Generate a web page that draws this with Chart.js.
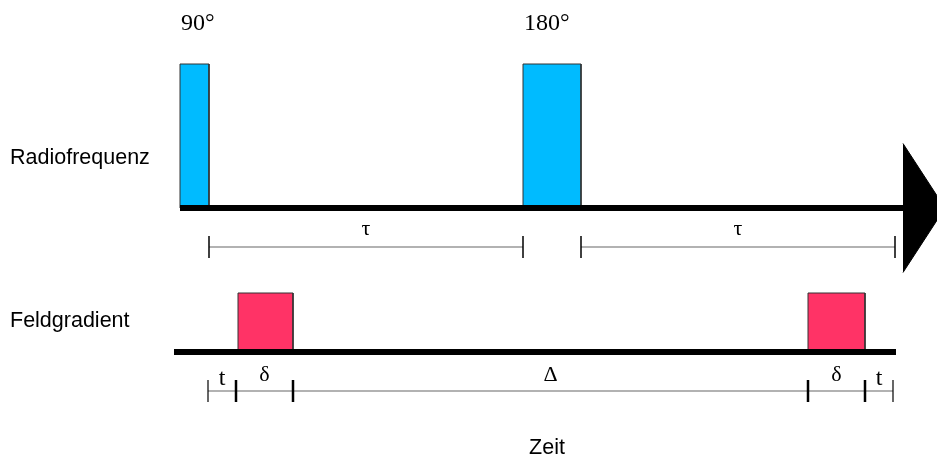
<!DOCTYPE html>
<html>
<head>
<meta charset="utf-8">
<script src="https://cdn.jsdelivr.net/npm/chart.js@4.4.1/dist/chart.umd.min.js"></script>
<style>
  html, body { margin: 0; padding: 0; background: #fff; }
  #wrap { width: 937px; height: 456px; }
</style>
</head>
<body>
<div id="wrap"><canvas id="seq" width="937" height="456"></canvas></div>
<script>
// time axis: 0 = start of the 90 degree pulse
const channels = ['Radiofrequenz', 'Feldgradient'];
const axisTitle = 'Zeit';

const rfLabels = ['90°', '180°'];
const rfStart = [0, 343];
const rfDur = [29, 58];
const rfAmp = [144, 144];

const gradStart = [58, 628];
const gradDur = [55, 57];
const gradAmp = [59, 59];

const rfAxis = [0, 723];      // time line of the rf channel, arrow head after it
const arrowEnd = 765;
const gradAxis = [-6, 716];

const tauLabels = ['τ', 'τ'];
const tauFrom = [29, 401];
const tauTo = [343, 715];

const markLabels = ['t', 'δ', 'Δ', 'δ', 't'];
const markTicks = [28, 56, 113, 628, 685, 713];

// row layout (y units, 0 = bottom of canvas)
const RF_BASE = 248;
const GRAD_BASE = 104;
const TAU_Y = 209;
const MARK_Y = 65;
const ARROW_HALF = 64.5;
const TICK = 11;

const SANS = '"Liberation Sans", Arial, sans-serif';
const SERIF = '"Liberation Serif", "Times New Roman", serif';

function pulse(start, dur, amp, base, color) {
  return {
    data: [
      {x: start, y: base}, {x: start, y: base + amp},
      {x: start + dur, y: base + amp}, {x: start + dur, y: base}
    ],
    fill: {value: base},
    backgroundColor: color,
    borderColor: '#333',
    borderWidth: 1,
    pointRadius: 0,
    order: 5
  };
}

function tick(x, yc, w) {
  return {
    data: [{x: x, y: yc - TICK}, {x: x, y: yc + TICK}],
    borderColor: '#000', borderWidth: w, borderCapStyle: 'butt', pointRadius: 0, order: 1
  };
}

function bracket(x0, x1, yc) {
  return {
    data: [{x: x0, y: yc}, {x: x1, y: yc}],
    borderColor: '#666', borderWidth: 1.2, pointRadius: 0, order: 2
  };
}

const datasets = [];
rfStart.forEach((s, i) => datasets.push(pulse(s, rfDur[i], rfAmp[i], RF_BASE, '#00bbff')));
gradStart.forEach((s, i) => datasets.push(pulse(s, gradDur[i], gradAmp[i], GRAD_BASE, '#ff3366')));

// base lines (the rf one runs on into the arrow head)
datasets.push({
  data: [{x: rfAxis[0], y: RF_BASE}, {x: arrowEnd, y: RF_BASE}],
  borderColor: '#000', borderWidth: 6, borderCapStyle: 'butt', pointRadius: 0, order: 1
});
datasets.push({
  data: [{x: gradAxis[0], y: GRAD_BASE}, {x: gradAxis[1], y: GRAD_BASE}],
  borderColor: '#000', borderWidth: 6, borderCapStyle: 'butt', pointRadius: 0, order: 1
});
// arrow head, upper and lower half
[1, -1].forEach(sgn => {
  datasets.push({
    data: [{x: rfAxis[1], y: RF_BASE + sgn * ARROW_HALF}, {x: arrowEnd, y: RF_BASE}],
    fill: {value: RF_BASE},
    backgroundColor: '#000', borderColor: '#000', borderWidth: 1, pointRadius: 0, order: 1
  });
});

// tau brackets
tauFrom.forEach((f, i) => {
  datasets.push(bracket(f, tauTo[i], TAU_Y));
  datasets.push(tick(f, TAU_Y, 1.5));
  datasets.push(tick(tauTo[i], TAU_Y, 1.5));
});
// gradient timing marks
datasets.push(bracket(markTicks[0], markTicks[markTicks.length - 1], MARK_Y));
markTicks.forEach((x, i) => {
  const outer = i === 0 || i === markTicks.length - 1;
  datasets.push(tick(x, MARK_Y, outer ? 1.2 : 2.5));
});

const labelPlugin = {
  id: 'seqLabels',
  afterDatasetsDraw(chart) {
    const {ctx, scales: {x, y}} = chart;
    ctx.save();
    ctx.fillStyle = '#000';
    ctx.textBaseline = 'alphabetic';

    // channel names
    ctx.font = '21.5px ' + SANS;
    ctx.textAlign = 'left';
    ctx.fillText(channels[0], 10, y.getPixelForValue(RF_BASE) - 44);
    ctx.fillText(channels[1], 10, y.getPixelForValue(GRAD_BASE) - 25);
    ctx.textAlign = 'center';
    ctx.fillText(axisTitle, 547, 454);

    // pulse flip angles
    ctx.font = '24px ' + SERIF;
    ctx.textAlign = 'left';
    rfLabels.forEach((lab, i) => {
      ctx.fillText(lab, x.getPixelForValue(rfStart[i]) + 1,
        y.getPixelForValue(RF_BASE + rfAmp[i]) - 34.5);
    });

    // interval symbols
    ctx.textAlign = 'center';
    ctx.font = '22px ' + SERIF;
    tauLabels.forEach((lab, i) => {
      const cx = (x.getPixelForValue(tauFrom[i]) + x.getPixelForValue(tauTo[i])) / 2;
      ctx.fillText(lab, cx, y.getPixelForValue(TAU_Y) - 12);
    });
    markLabels.forEach((lab, i) => {
      const cx = (x.getPixelForValue(markTicks[i]) + x.getPixelForValue(markTicks[i + 1])) / 2;
      const latin = lab === 't';
      ctx.font = (latin ? '24px ' : '22px ') + SERIF;
      ctx.fillText(lab, cx, y.getPixelForValue(MARK_Y) - (latin ? 6.5 : 10));
    });
    ctx.restore();
  }
};

new Chart(document.getElementById('seq'), {
  type: 'line',
  data: {datasets: datasets},
  options: {
    responsive: false,
    animation: false,
    events: [],
    layout: {padding: 0, autoPadding: false},
    elements: {line: {tension: 0}},
    scales: {
      x: {type: 'linear', min: -180, max: 757, display: false},
      y: {type: 'linear', min: 0, max: 456, display: false}
    },
    plugins: {
      legend: {display: false},
      tooltip: {enabled: false}
    }
  },
  plugins: [labelPlugin]
});
</script>
</body>
</html>
